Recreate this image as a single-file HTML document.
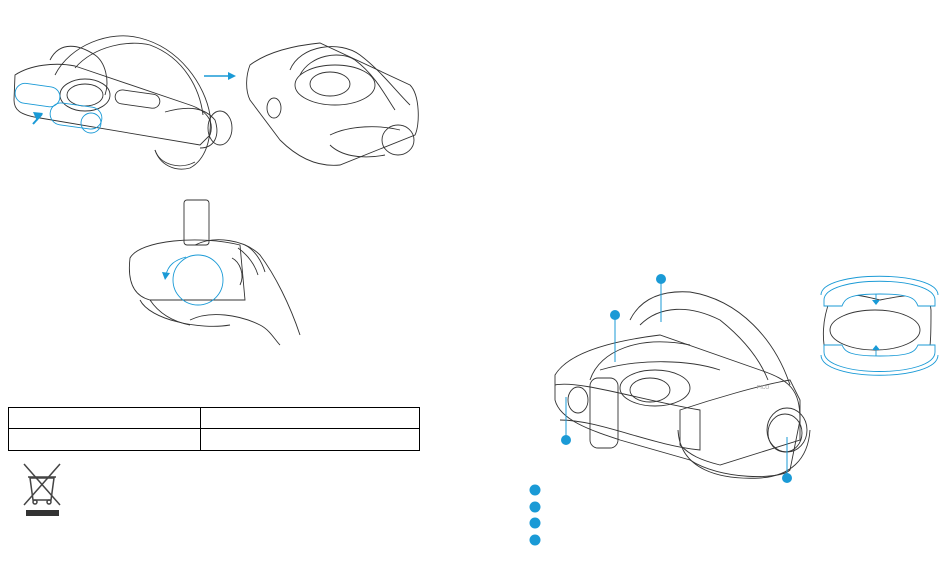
<!DOCTYPE html>
<html><head><meta charset="utf-8"><style>
html,body{margin:0;padding:0;background:#fff;width:950px;height:566px;overflow:hidden}
svg{display:block}
</style></head><body>
<svg width="950" height="566" viewBox="0 0 950 566" xmlns="http://www.w3.org/2000/svg" fill="none" stroke="#333" stroke-width="0.9">
<!-- Top-left headset -->
<g>
<path d="M55 75 C70 45 110 30 140 38 C180 48 205 85 210 115 C212 140 205 160 190 168 C175 172 160 165 155 150"/>
<path d="M75 68 C95 45 130 40 150 45 C185 58 200 90 203 115"/>
<path d="M15 75 C30 65 55 62 75 66 L190 105 C205 110 215 120 210 135 L200 145 L40 118 C20 115 14 110 14 100 Z"/>
<path d="M50 60 C60 40 80 45 95 55 C105 62 110 80 105 95"/>
<ellipse cx="85" cy="95" rx="25" ry="16"/>
<ellipse cx="85" cy="95" rx="18" ry="11"/>
<rect x="115" y="92" width="45" height="14" rx="7" transform="rotate(8 137 99)"/>
<path d="M165 112 C190 105 205 108 215 120 C220 135 215 148 200 148"/>
<ellipse cx="220" cy="128" rx="12" ry="17"/>
<path d="M155 150 C160 165 180 170 195 162"/>
<g stroke="#1a9ad6">
<rect x="15" y="85" width="45" height="20" rx="10" transform="rotate(8 37 95)"/>
<rect x="50" y="105" width="52" height="22" rx="11" transform="rotate(8 76 116)"/>
<circle cx="91" cy="123" r="10"/>
</g>
<path d="M33 124 L42 114" stroke="#1a9ad6" stroke-width="2"/>
<polygon points="33,112 43,113 37,121" fill="#1a9ad6" stroke="none"/>
</g>
<!-- arrow -->
<line x1="204" y1="76" x2="228" y2="76" stroke="#1a9ad6" stroke-width="1.5"/>
<polygon points="228,72 236,76 228,80" fill="#1a9ad6" stroke="none"/>
<!-- Top-right headset -->
<g>
<path d="M250 65 C270 50 300 45 320 43 L410 85 C420 95 420 125 415 135 L340 165 C320 167 300 160 280 140 L250 100 C245 90 246 75 250 65 Z"/>
<path d="M290 70 C300 45 340 40 360 55 C380 70 395 90 410 105"/>
<path d="M300 75 C310 55 340 50 355 60 C375 75 385 95 395 110"/>
<ellipse cx="335" cy="85" rx="40" ry="20"/>
<ellipse cx="330" cy="84" rx="20" ry="12"/>
<ellipse cx="274" cy="108" rx="7" ry="10"/>
<path d="M330 135 C350 125 380 125 400 130"/>
<ellipse cx="398" cy="140" rx="16" ry="15"/>
<path d="M330 145 C340 155 360 160 385 155"/>
</g>
<!-- Hand / dial -->
<g>
<rect x="184" y="200" width="25" height="45" rx="3"/>
<path d="M130 258 C140 240 200 235 240 245 L245 300 L150 300 C130 295 128 275 130 258 Z"/>
<path d="M140 300 C150 320 200 330 230 325"/>
<path d="M195 245 C215 235 245 240 260 255 C275 275 290 305 300 335"/>
<path d="M190 320 C210 310 240 315 260 325 C270 330 275 340 280 345"/>
<path d="M240 285 C245 275 240 262 232 258"/>
<path d="M238 248 C248 255 255 265 258 275"/>
<path d="M245 245 C255 250 262 262 265 272"/>
<path d="M150 300 C160 315 175 322 190 325"/>
<circle cx="198" cy="280" r="25" stroke="#1a9ad6"/>
<path d="M186 257 C175 260 168 265 166 275" stroke="#1a9ad6"/>
<polygon points="162,272 170,273 165,280" fill="#1a9ad6" stroke="none"/>
</g>
<!-- table -->
<g stroke="#000" stroke-width="1">
<rect x="8.5" y="407.5" width="411" height="43"/>
<line x1="8" y1="428.5" x2="420" y2="428.5"/>
<line x1="200.5" y1="407" x2="200.5" y2="451"/>
</g>
<!-- bin icon -->
<g stroke="#444" stroke-width="1.5">
<path d="M30 478 L33 500 L51 500 L54 478 Z"/>
<line x1="28" y1="477" x2="56" y2="477"/>
<line x1="24" y1="464" x2="60" y2="505"/>
<line x1="60" y1="464" x2="24" y2="505"/>
<circle cx="35" cy="502" r="2"/><circle cx="49" cy="502" r="2"/>
</g>
<rect x="26" y="510" width="33" height="6" fill="#333" stroke="none"/>
<!-- Right headset -->
<g>
<path d="M555 375 C570 350 620 340 660 335 L760 370 C790 380 800 390 800 420 L790 470 C780 480 720 480 690 460 L620 440 C590 430 560 420 555 400 Z"/>
<path d="M630 320 C640 300 660 290 690 292 C740 300 775 340 790 385"/>
<path d="M640 325 C660 305 690 305 720 320 C745 340 760 360 768 380"/>
<path d="M590 380 C600 350 640 335 690 345"/>
<path d="M600 370 C640 358 690 360 720 370"/>
<ellipse cx="655" cy="388" rx="35" ry="18"/>
<ellipse cx="650" cy="390" rx="20" ry="12"/>
<rect x="590" y="378" width="28" height="70" rx="8"/>
<path d="M555 385 C580 380 640 400 700 410 L700 450 C650 445 600 420 560 420"/>
<ellipse cx="578" cy="400" rx="10" ry="13"/>
<path d="M680 410 C710 400 760 385 790 380 L800 400 L800 440 L720 465 C700 460 690 455 680 445 Z"/>
<path d="M678 430 C680 470 720 480 760 478 C790 476 808 460 810 430"/>
<ellipse cx="787" cy="430" rx="20" ry="22"/>
<ellipse cx="785" cy="433" rx="17" ry="19"/>
<text x="757" y="389" font-family="Liberation Sans, sans-serif" font-size="5" fill="#999" stroke="none">PICO</text>
</g>
<!-- callouts -->
<g stroke="#1a9ad6" stroke-width="1">
<line x1="661" y1="280" x2="661" y2="322"/>
<line x1="615" y1="316" x2="615" y2="362"/>
<line x1="566" y1="397" x2="566" y2="440"/>
<line x1="787" y1="437" x2="787" y2="478"/>
</g>
<g fill="#1a9ad6" stroke="none">
<circle cx="661" cy="279" r="5"/>
<circle cx="615" cy="315" r="5"/>
<circle cx="566" cy="440" r="5"/>
<circle cx="787" cy="478" r="5"/>
<circle cx="535" cy="490" r="5.5"/>
<circle cx="535" cy="507" r="5.5"/>
<circle cx="535" cy="523" r="5.5"/>
<circle cx="535" cy="540" r="5.5"/>
</g>
<!-- facial interface -->
<g>
<path d="M830 300 C835 290 860 295 880 300 C905 295 930 290 931 310 C931 330 931 345 928 360 C920 370 895 365 880 360 C860 365 830 370 826 355 C822 340 822 320 830 300 Z"/>
<ellipse cx="875" cy="330" rx="45" ry="20"/>
<g stroke="#1a9ad6">
<path d="M824 300 C824 275 935 275 935 300 L935 306 L918 306 C915 298 910 294 880 294 C850 294 845 298 842 306 L824 306 Z" fill="#fff"/>
<path d="M821 295 C821 270 938 270 938 295"/>
<path d="M824 345 L842 345 C845 352 850 356 880 356 C910 356 915 352 918 345 L935 345 L935 352 C935 378 824 378 824 352 Z" fill="#fff"/>
<path d="M821 355 C821 382 938 382 938 355"/>
<line x1="876" y1="294" x2="876" y2="300"/>
<line x1="876" y1="356" x2="876" y2="350"/>
</g>
<polygon points="872,300 880,300 876,305" fill="#1a9ad6" stroke="none"/>
<polygon points="872,350 880,350 876,345" fill="#1a9ad6" stroke="none"/>
</g>
</svg>
</body></html>
